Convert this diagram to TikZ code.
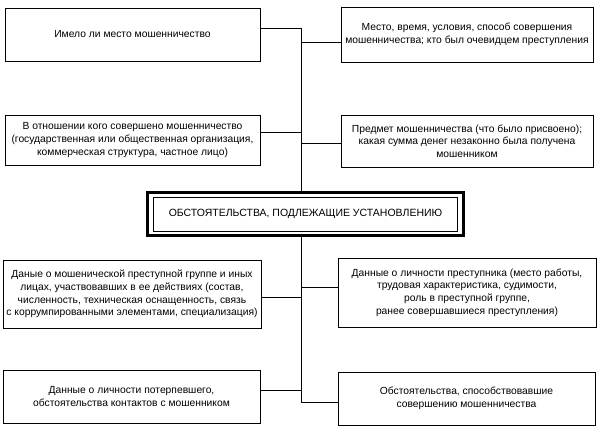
\documentclass[tikz,border=0pt]{standalone}
\usepackage{fontspec}
\setmainfont{Liberation Sans}
\begin{document}
\begin{tikzpicture}[x=1pt,y=-1pt,
  box/.style={draw,line width=0.9pt,align=center,inner sep=0pt,font=\fontsize{10.3}{12.6}\selectfont},
  conn/.style={line width=0.8pt}]
\useasboundingbox (0,0) rectangle (598,432);
% boxes: centre at ((l+r)/2,(t+b)/2), size (r-l)x(b-t)
\node[box,minimum width=255pt,minimum height=53pt] (b1) at (132.5,34.5) {Имело ли место мошенничество};
\node[box,minimum width=252pt,minimum height=55pt] (b2) at (467,34.5) {Место, время, условия, способ совершения\\мошенничества; кто был очевидцем преступления};
\node[box,minimum width=255pt,minimum height=50pt] (b3) at (132.5,140) {В отношении кого совершено мошенничество\\(государственная или общественная организация,\\коммерческая структура, частное лицо)};
\node[box,minimum width=252pt,minimum height=52pt] (b4) at (467,141) {Предмет мошенничества (что было присвоено);\\какая сумма денег незаконно была получена\\мошенником};
\node[box,minimum width=258pt,minimum height=68pt] (b5) at (132,294) {Даные о мошенической преступной группе и иных\\лицах, участвовавших в ее действиях (состав,\\численность, техническая оснащенность, связь\\с коррумпированными элементами, специализация)};
\node[box,minimum width=258pt,minimum height=69pt] (b6) at (467,292.5) {Данные о личности преступника (место работы,\\трудовая характеристика, судимости,\\роль в преступной группе,\\ранее совершавшиеся преступления)};
\node[box,minimum width=257pt,minimum height=53pt] (b7) at (131.5,396.5) {Данные о личности потерпевшего,\\обстоятельства контактов с мошенником};
\node[box,minimum width=257pt,minimum height=53pt] (b8) at (466.5,398.5) {Обстоятельства, способствовавшие\\совершению мошенничества};
% central box with double border
\node[draw,line width=2.6pt,minimum width=316pt,minimum height=43pt,inner sep=0pt] (c) at (305.5,214) {};
\node[draw,line width=0.7pt,minimum width=304pt,minimum height=34pt,inner sep=0pt,font=\fontsize{10.5}{12.6}\selectfont] (ci) at (305.5,214) {ОБСТОЯТЕЛЬСТВА, ПОДЛЕЖАЩИЕ УСТАНОВЛЕНИЮ};
% spine
\coordinate (sp) at (301,0);
\coordinate (sptop) at (301,28);
\coordinate (spbot) at (301,402);
\draw[conn] (sptop) -- (sptop |- c.north);
\draw[conn] (spbot |- c.south) -- (spbot);
% connectors
\draw[conn] ([yshift=6.5pt]b1.east) coordinate (t1) -- (t1 -| sp);
\draw[conn] ([yshift=-7.5pt]b2.west) coordinate (t2) -- (t2 -| sp);
\draw[conn] ([yshift=8pt]b3.east) coordinate (t3) -- (t3 -| sp);
\draw[conn] ([yshift=-2pt]b4.west) coordinate (t4) -- (t4 -| sp);
\draw[conn] ([yshift=-3pt]b5.east) coordinate (t5) -- (t5 -| sp);
\draw[conn] ([yshift=5.5pt]b6.west) coordinate (t6) -- (t6 -| sp);
\draw[conn] ([yshift=6.5pt]b7.east) coordinate (t7) -- (t7 -| sp);
\draw[conn] ([yshift=-3.5pt]b8.west) coordinate (t8) -- (t8 -| sp);
\end{tikzpicture}
\end{document}
